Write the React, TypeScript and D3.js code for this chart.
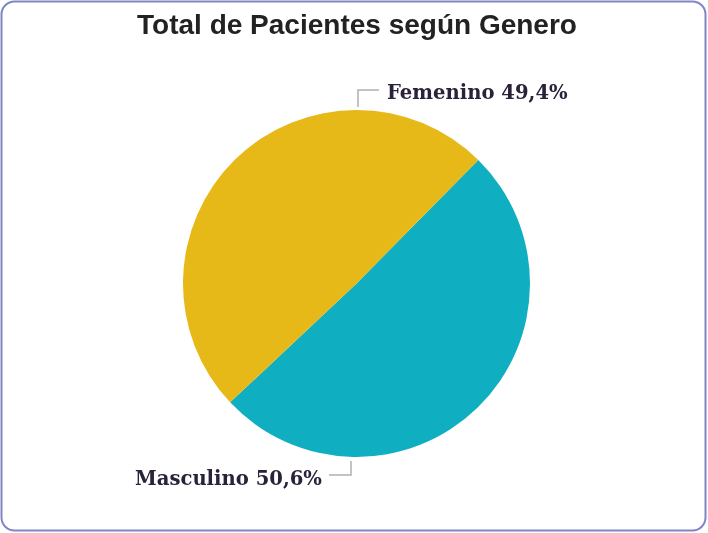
import React from 'react';
import * as d3 from 'd3';

// valores
const categories = ['Masculino', 'Femenino'];
const percents = [50.6, 49.4];
const colors = ['#0fafc1', '#e6b919'];
const labelText = ['Masculino 50,6%', 'Femenino 49,4%'];

const W = 708;
const H = 533;
const cx = 356.5;
const cy = 283.5;
const radius = 173.5;

export default function App() {
  const pie = d3.pie<number>()
    .sort(null)
    .value(d => d)
    .startAngle((44.6 * Math.PI) / 180)
    .endAngle((44.6 * Math.PI) / 180 + 2 * Math.PI);

  const arcs = pie(percents);
  const arcGen = d3.arc<d3.PieArcDatum<number>>().innerRadius(0).outerRadius(radius);

  // leader lines: from the bottom/top of the circle to the label
  const femTop = cy - radius;
  const mascBottom = cy + radius;

  return (
    <div style={{ position: 'fixed', left: 0, top: 0, width: W, height: H }}>
      <svg width={W} height={H} style={{ display: 'block' }}>
        <rect x={1.5} y={1.5} width={W - 4} height={H - 4} rx={13} ry={13}
          fill="#ffffff" stroke="#8086c4" strokeWidth={2} />
        <text x={357} y={34} textAnchor="middle" fontFamily="'Liberation Sans', Arial, sans-serif"
          fontWeight="bold" fontSize={28} fill="#222222">
          Total de Pacientes según Genero
        </text>

        <g transform={`translate(${cx},${cy})`}>
          {arcs.map((a, i) => (
            <path key={categories[i]} d={arcGen(a) || ''} fill={colors[i]} />
          ))}
        </g>

        {/* Femenino */}
        <polyline points={`358,${femTop - 3} 358,90 379,90`} fill="none" stroke="#b0b0b0" strokeWidth={1.5} />
        <text x={387} y={99} fontFamily="'DejaVu Serif', serif" fontWeight="bold" fontSize={19.6}
          fill="#2a2238">{labelText[1]}</text>

        {/* Masculino */}
        <polyline points={`351,${mascBottom + 4} 351,475 329,475`} fill="none" stroke="#b0b0b0" strokeWidth={1.5} />
        <text x={322} y={485} textAnchor="end" fontFamily="'DejaVu Serif', serif" fontWeight="bold" fontSize={19.6}
          fill="#2a2238">{labelText[0]}</text>
      </svg>
    </div>
  );
}
